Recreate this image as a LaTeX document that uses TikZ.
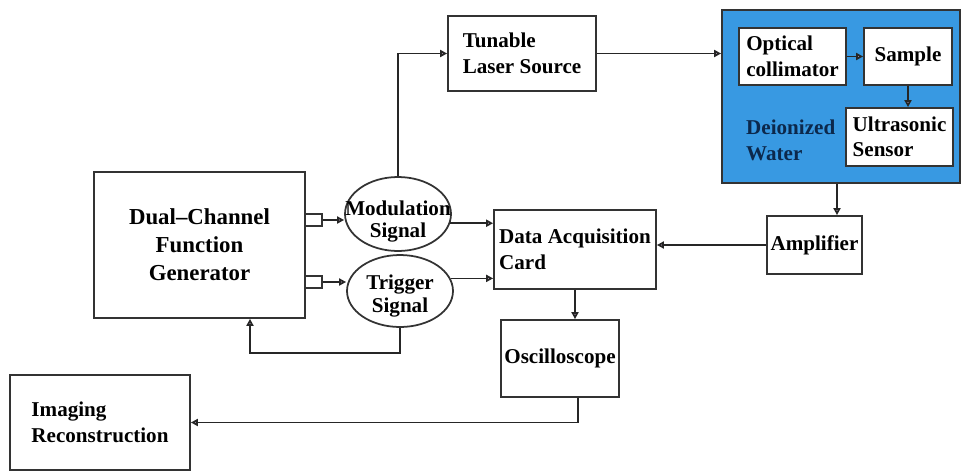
\documentclass[tikz,border=0pt]{standalone}
\usepackage{fontspec}
\setmainfont{Liberation Serif}
\usepackage{xcolor}
\usetikzlibrary{arrows.meta,shapes.geometric}
\definecolor{water}{RGB}{56,153,226}
\definecolor{navy}{RGB}{12,40,75}

\begin{document}
\begin{tikzpicture}[x=0.02cm,y=-0.02cm,
                box/.style={draw=black!80,line width=1pt,fill=white,inner sep=2pt,align=left,font=\bfseries\fontsize{12}{14.5}\selectfont},
                sig/.style={draw=black!80,line width=1pt,ellipse,inner sep=0pt,minimum width=2.12cm},
                siglabel/.style={font=\bfseries\fontsize{12}{13}\selectfont,align=center,yshift=-0.15cm},
                port/.style={draw=black!80,line width=1pt,fill=white,inner sep=0pt,minimum width=0.34cm,minimum height=0.24cm},
                arr/.style={draw=black!85,line width=1pt,-{Triangle[open,length=4pt,width=4pt,fill=violet!25]}}]
                \useasboundingbox (0,0) rectangle (962,470);

                \node[box,align=center,font=\bfseries\fontsize{13}{16}\selectfont,minimum width=4.22cm,minimum height=2.92cm] (gen) at (199.5,245) {Dual\textendash Channel\\Function\\Generator};
                \node[port] (port1) at (313.5,220) {};
                \node[port] (port2) at (313.5,282) {};

                \node[sig,minimum height=1.48cm,label={[siglabel]center:Modulation\\Signal}] (mod) at (398,214) {};
                \node[sig,minimum height=1.44cm,label={[siglabel,yshift=0.05cm]center:Trigger\\Signal}] (trig) at (400,291) {};

                \node[box,minimum width=2.96cm,minimum height=1.5cm] (laser) at (522,53.5) {Tunable\\Laser Source};

                \node[draw=black!80,line width=1pt,fill=water,minimum width=4.76cm,minimum height=3.46cm] (water) at (841,96.5) {};
                \node[box,minimum width=2.14cm,minimum height=1.14cm] (coll) at (792.5,56.5) {Optical\\collimator};
                \node[box,minimum width=1.76cm,minimum height=1.14cm] (sample) at (908,56.5) {Sample};
                \node[box,minimum width=2.14cm,minimum height=1.16cm] (sensor) at (899.5,137) {Ultrasonic\\Sensor};
                \node[anchor=west,align=left,text=navy,font=\bfseries\fontsize{12}{14.5}\selectfont] (dw) at (740,140.5) {Deionized\\Water};

                \node[box,minimum width=1.9cm,minimum height=1.16cm] (amp) at (814.5,245) {Amplifier};
                \node[box,minimum width=3.24cm,minimum height=1.58cm] (daq) at (575,249.5) {Data Acquisition\\Card};
                \node[box,minimum width=2.3cm,minimum height=1.54cm] (osc) at (560,358.5) {Oscilloscope};
                \node[box,minimum width=3.6cm,minimum height=1.9cm] (img) at (100,422.5) {Imaging\\Reconstruction};

                \coordinate (ampin) at ([xshift=0.45cm]amp.north);
                \coordinate (oscout) at ([xshift=0.36cm]osc.south);

                \draw[arr] (port1.east) -- (port1.east -| mod.west);
                \draw[arr] (port2.east) -- (port2.east -| trig.west);
                \draw[arr] (mod.north) |- (laser.west);
                \draw[arr] (laser.east) -- (laser.east -| water.west);
                \draw[arr] (coll.east) -- (coll.east -| sample.west);
                \draw[arr] (sample.south) -- (sample.south |- sensor.north);
                \draw[arr] (ampin |- water.south) -- (ampin);
                \draw[arr] (amp.west) -- (amp.west -| daq.east);
                \draw[arr] (mod.-10) -- (mod.-10 -| daq.west);
                \draw[arr] (trig.14) -- (trig.14 -| daq.west);
                \draw[arr] (daq.south) -- (daq.south |- osc.north);
                \draw[arr] (oscout) |- (img.east);
                \draw[arr] (trig.south) -- ++(0,-0.5cm) -| ([xshift=1.01cm]gen.south);
            \end{tikzpicture}
\end{document}
